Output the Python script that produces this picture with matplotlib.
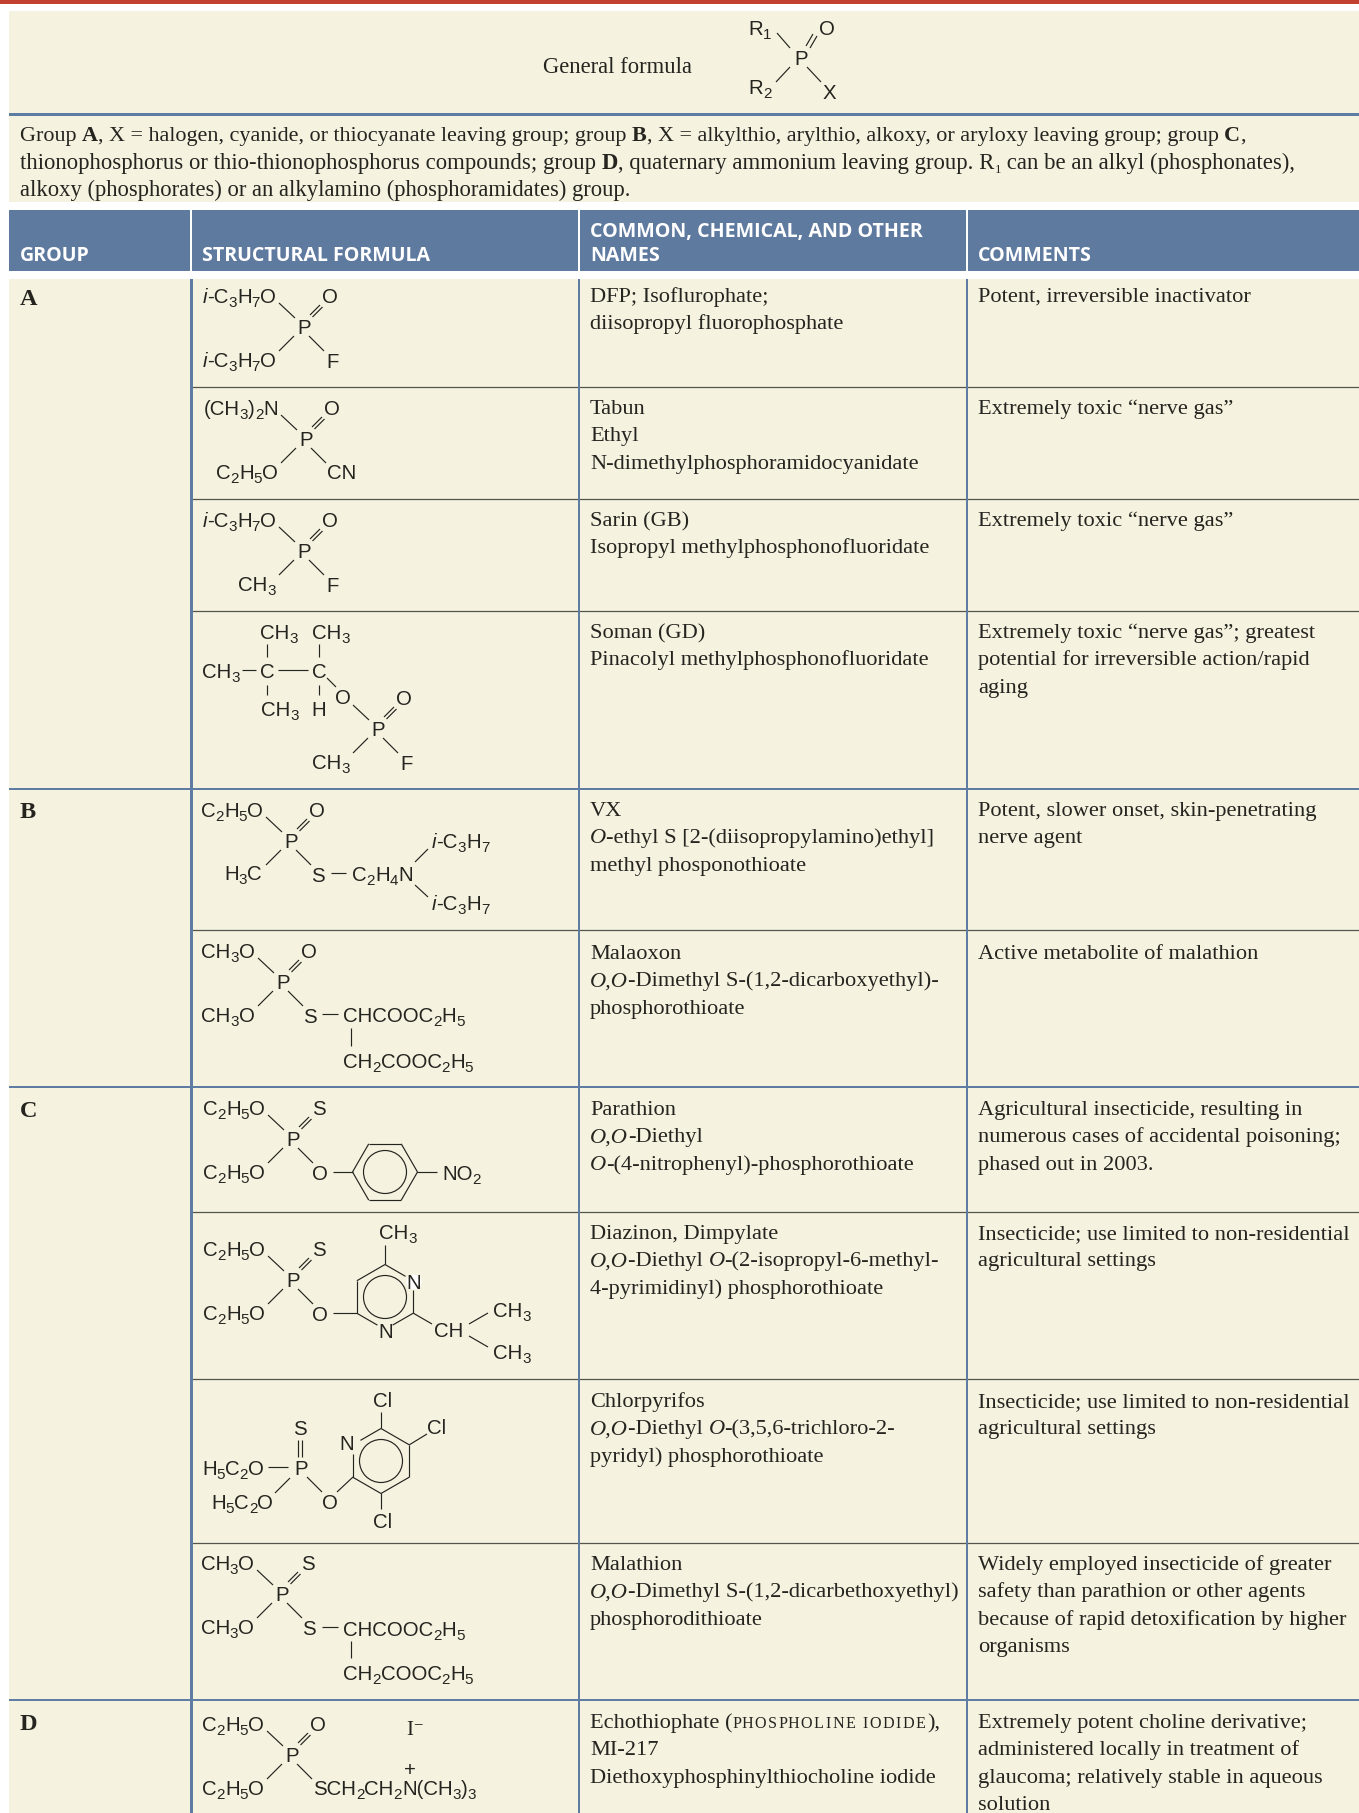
"""Organophosphate compounds table, drawn on a pixel-sized axes."""
import re
import math
import matplotlib
matplotlib.use("Agg")
import matplotlib.pyplot as plt
from matplotlib import font_manager as fm
from matplotlib.patches import Rectangle, Circle

W, H = 1359, 1813
CREAM = '#f5f3e0'
BLUE = '#5f7ca3'
HEAD = '#5f7a9f'
RED = '#c1402f'
INK = '#26241f'
RULE = '#55544c'

SERIF = 'Liberation Serif'
SANS = 'Liberation Sans'
HEADFONT = 'Open Sans'

BODY_PT = 16.1
CHEM_PT = 14.7
HEAD_PT = 14.1

INTRO = [
    "Group <b>A</b>, X = halogen, cyanide, or thiocyanate leaving group; group <b>B</b>, X = alkylthio, arylthio, alkoxy, or aryloxy leaving group; group <b>C</b>,",
    "thionophosphorus or thio-thionophosphorus compounds; group <b>D</b>, quaternary ammonium leaving group. R<sub>1</sub> can be an alkyl (phosphonates),",
    "alkoxy (phosphorates) or an alkylamino (phosphoramidates) group.",
]
INTRO_PT = [15.93, 16.4, 16.3]
HEADERS = ["GROUP", "STRUCTURAL FORMULA", "COMMON, CHEMICAL, AND OTHER\nNAMES", "COMMENTS"]
GROUPS = {"A": 0, "B": 4, "C": 6, "D": 10}

ROW_TOPS = [279, 387, 499, 611, 789, 930, 1087, 1212, 1379, 1543, 1700]
FIRST_BASE = [302, 414, 526, 638, 816, 959, 1115, 1239, 1407, 1570, 1728]
NAMES = [
    ["DFP; Isoflurophate;", "diisopropyl fluorophosphate"],
    ["Tabun", "Ethyl", "N-dimethylphosphoramidocyanidate"],
    ["Sarin (GB)", "Isopropyl methylphosphonofluoridate"],
    ["Soman (GD)", "Pinacolyl methylphosphonofluoridate"],
    ["VX", "<i>O</i>-ethyl S [2-(diisopropylamino)ethyl]", "methyl phosponothioate"],
    ["Malaoxon", "<i>O,O</i>-Dimethyl S-(1,2-dicarboxyethyl)-", "phosphorothioate"],
    ["Parathion", "<i>O,O</i>-Diethyl", "<i>O</i>-(4-nitrophenyl)-phosphorothioate"],
    ["Diazinon, Dimpylate", "<i>O,O</i>-Diethyl <i>O</i>-(2-isopropyl-6-methyl-", "4-pyrimidinyl) phosphorothioate"],
    ["Chlorpyrifos", "<i>O,O</i>-Diethyl <i>O</i>-(3,5,6-trichloro-2-", "pyridyl) phosphorothioate"],
    ["Malathion", "<i>O,O</i>-Dimethyl S-(1,2-dicarbethoxyethyl)", "phosphorodithioate"],
    ["Echothiophate (<sc>PHOSPHOLINE IODIDE</sc>),", "MI-217", "Diethoxyphosphinylthiocholine iodide"],
]
COMMENTS = [
    ["Potent, irreversible inactivator"],
    ["Extremely toxic \u201cnerve gas\u201d"],
    ["Extremely toxic \u201cnerve gas\u201d"],
    ["Extremely toxic \u201cnerve gas\u201d; greatest", "potential for irreversible action/rapid", "aging"],
    ["Potent, slower onset, skin-penetrating", "nerve agent"],
    ["Active metabolite of malathion"],
    ["Agricultural insecticide, resulting in", "numerous cases of accidental poisoning;", "phased out in 2003."],
    ["Insecticide; use limited to non-residential", "agricultural settings"],
    ["Insecticide; use limited to non-residential", "agricultural settings"],
    ["Widely employed insecticide of greater", "safety than parathion or other agents", "because of rapid detoxification by higher", "organisms"],
    ["Extremely potent choline derivative;", "administered locally in treatment of", "glaucoma; relatively stable in aqueous", "solution"],
]

fig = plt.figure(figsize=(W / 100, H / 100), dpi=100, facecolor='white')
ax = fig.add_axes([0, 0, 1, 1])
ax.set_xlim(0, W)
ax.set_ylim(H, 0)
ax.axis('off')
renderer = fig.canvas.get_renderer()


def measure(s, prop):
    full = renderer.get_text_width_height_descent('.' + s + '.', prop, False)[0]
    dots = renderer.get_text_width_height_descent('..', prop, False)[0]
    return full - dots


def rich(x, y, markup, family=SERIF, size=BODY_PT, color=INK, ha='left', sub_drop=4, sub=0.56):
    """Lay out <b>/<i>/<sub>/<sc> runs one after the other from a baseline."""
    runs = []
    style = dict(weight='normal', slant='normal', size=size, drop=0, track=0)
    for part in re.split(r'(</?(?:b|i|sub|sc)>)', markup):
        if part == '<b>':
            style = dict(style, weight='bold')
        elif part == '<i>':
            style = dict(style, slant='italic')
        elif part == '<sub>':
            style = dict(style, size=size * sub, drop=sub_drop)
        elif part == '<sc>':
            style = dict(style, size=size * 0.72, track=1.6)
        elif part in ('</b>', '</i>', '</sub>', '</sc>'):
            style = dict(weight='normal', slant='normal', size=size, drop=0, track=0)
        elif part:
            prop = fm.FontProperties(family=family, weight=style['weight'],
                                     style=style['slant'], size=style['size'])
            # small caps are letterspaced, so they go down one letter at a time
            pieces = part if style['track'] else [part]
            for piece in pieces:
                runs.append((piece, prop, style['drop'], measure(piece, prop) + style['track']))
    total = sum(r[3] for r in runs)
    if ha == 'right':
        x -= total
    elif ha == 'center':
        x -= total / 2
    for part, prop, drop, w in runs:
        if part.strip():
            ax.text(x, y + drop, part, fontproperties=prop, color=color,
                    ha='left', va='baseline')
        x += w


def chem(x, y, s, ha='left'):
    # y is the middle of the capitals, _2 makes a subscript, ~ wraps italics
    s = re.sub(r'_(\d)', r'<sub>\1</sub>', s)
    s = re.sub(r'~(.*?)~', r'<i>\1</i>', s)
    rich(x, y + 7, s, family=SANS, size=CHEM_PT, ha=ha, sub=0.74)


def bond(x0, y0, x1, y1):
    ax.plot([x0, x1], [y0, y1], color=INK, lw=0.85, solid_capstyle='butt', zorder=3)


def phos(px, py, ul=None, ur=None, ll=None, lr=None, lr_left=False):
    """P centre with its usual four arms; labels sit at the arm ends."""
    chem(px, py, 'P', ha='center')
    bond(px - 24, py - 24, px - 8, py - 9)
    bond(px - 9, py + 9, px - 24, py + 24)
    bond(px + 6, py + 9, px + 21, py + 24)
    bond(px + 7, py - 12, px + 17, py - 22)
    bond(px + 9.5, py - 10, px + 19.5, py - 20)
    if ul:
        chem(px - 27, py - 31, ul, ha='right')
    if ur:
        chem(px + 27, py - 31, ur, ha='center')
    if ll:
        chem(px - 27, py + 33, ll, ha='right')
    if lr:
        if lr_left:
            chem(px + 22, py + 33, lr)
        else:
            chem(px + 28, py + 34, lr, ha='center')


def ring(cx, cy, start, gaps=(), r=32.5):
    verts = [(cx + r * math.cos(math.radians(start + 60 * i)),
              cy + r * math.sin(math.radians(start + 60 * i))) for i in range(6)]
    for i in range(6):
        (x0, y0), (x1, y1) = verts[i], verts[(i + 1) % 6]
        t0 = 0.27 if i in gaps else 0
        t1 = 0.73 if (i + 1) % 6 in gaps else 1
        bond(x0 + (x1 - x0) * t0, y0 + (y1 - y0) * t0,
             x0 + (x1 - x0) * t1, y0 + (y1 - y0) * t1)
    ax.add_patch(Circle((cx, cy), 21.5, fill=False, ec=INK, lw=0.85, zorder=3))


# backgrounds and rules
ax.add_patch(Rectangle((0, 0), W, 3.5, fc=RED, ec='none'))
ax.add_patch(Rectangle((9, 11), W - 9, 102, fc=CREAM, ec='none'))
ax.add_patch(Rectangle((9, 113), W - 9, 2.6, fc=BLUE, ec='none'))
ax.add_patch(Rectangle((9, 115.6), W - 9, 86.4, fc=CREAM, ec='none'))
ax.add_patch(Rectangle((9, 210), W - 9, 61, fc=HEAD, ec='none'))
ax.add_patch(Rectangle((9, 279), W - 9, H - 279, fc=CREAM, ec='none'))
for cx in (190.5, 579, 967):
    ax.add_patch(Rectangle((cx - 1, 210), 2, 61, fc='white', ec='none', zorder=2))
for top in ROW_TOPS[1:]:
    if top not in (ROW_TOPS[v] for v in GROUPS.values()):
        ax.plot([191, W], [top, top], color=RULE, lw=0.9, zorder=1)
for idx in GROUPS.values():
    if idx:
        ax.add_patch(Rectangle((9, ROW_TOPS[idx] - 1.3), W - 9, 2.6, fc=BLUE, ec='none', zorder=2))
ax.add_patch(Rectangle((189.5, 279), 3, H - 279, fc=BLUE, ec='none', zorder=2))
for cx in (579, 967):
    ax.add_patch(Rectangle((cx - 1, 279), 2, H - 279, fc=BLUE, ec='none', zorder=2))

# text blocks
rich(543, 73, "General formula", size=16.3)
for i, (line, pt) in enumerate(zip(INTRO, INTRO_PT)):
    rich(20, 141 + i * 27.7, line, size=pt)

header_x = [20, 202, 590, 978]
for hx, label in zip(header_x, HEADERS):
    lines = label.split('\n')
    for j, line in enumerate(reversed(lines)):
        ax.text(hx, 261 - j * 24, line, family=HEADFONT, weight='bold', size=HEAD_PT,
                color='white', ha='left', va='baseline')

for g, idx in GROUPS.items():
    rich(20, FIRST_BASE[idx] + (3 if g == 'A' else 2), f"<b>{g}</b>", size=17.5)
for base, names, notes in zip(FIRST_BASE, NAMES, COMMENTS):
    for i, line in enumerate(names):
        rich(590, base + i * 27.4, line)
    for i, line in enumerate(notes):
        rich(978, base + i * 27.4, line)

# general formula
chem(800, 58, 'P', ha='center')
chem(760, 28, 'R_1', ha='center')
chem(827, 28, 'O', ha='center')
chem(760, 87, 'R_2', ha='center')
chem(829, 92, 'X', ha='center')
bond(777, 33, 790, 48)
bond(790, 67, 776, 82)
bond(807, 67, 821, 82)
bond(806, 46, 813, 34)
bond(810, 48, 817, 36)

# group A
phos(303, 327, '~i~-C_3H_7O', 'O', '~i~-C_3H_7O', 'F')
phos(305, 439, '(CH_3)_2N', 'O', 'C_2H_5O', 'CN', lr_left=True)
phos(303, 551, '~i~-C_3H_7O', 'O', 'CH_3', 'F')

chem(260, 632, 'CH_3')
chem(312, 632, 'CH_3')
chem(202, 671, 'CH_3')
chem(267, 671, 'C', ha='center')
chem(319, 671, 'C', ha='center')
chem(261, 709, 'CH_3')
chem(319, 709, 'H', ha='center')
chem(343, 697, 'O', ha='center')
bond(267, 644, 267, 657)
bond(319, 644, 319, 657)
bond(242, 670, 256, 670)
bond(278, 670, 308, 670)
bond(267, 685, 267, 695)
bond(319, 685, 319, 695)
bond(327, 678, 336, 687)
phos(377, 729, None, 'O', 'CH_3', 'F')

# group B
phos(290, 841, 'C_2H_5O', 'O', None, 'S')
chem(224, 873, 'H_3C')
bond(331, 873, 346, 873)
chem(352, 874, 'C_2H_4N')
chem(432, 841, '~i~-C_3H_7')
chem(432, 903, '~i~-C_3H_7')
bond(415, 862, 428, 849)
bond(415, 885, 428, 897)

phos(282, 982, 'CH_3O', 'O', 'CH_3O', 'S')
bond(322, 1014, 338, 1014)
chem(343, 1015, 'CHCOOC_2H_5')
bond(351, 1028, 351, 1046)
chem(343, 1061, 'CH_2COOC_2H_5')

# group C
phos(292, 1139, 'C_2H_5O', 'S', 'C_2H_5O', 'O')
bond(333, 1172, 353, 1172)
ring(385, 1172, 0)
bond(417, 1172, 437, 1172)
chem(442, 1173, 'NO_2')

phos(292, 1280, 'C_2H_5O', 'S', 'C_2H_5O', 'O')
bond(333, 1313, 357, 1313)
ring(385, 1297, -90, gaps=(1, 3))
ax.add_patch(Circle((414, 1282), 7.5, fc='white', ec='none', zorder=3.5))
ax.text(414, 1289, 'N', family=SANS, size=CHEM_PT, color=INK, ha='center', va='baseline', zorder=4)
chem(386, 1331, 'N', ha='center')
chem(379, 1232, 'CH_3')
bond(385, 1245, 385, 1264)
bond(413, 1313, 432, 1324)
chem(434, 1330, 'CH')
bond(469, 1324, 488, 1313)
bond(469, 1336, 488, 1347)
chem(493, 1310, 'CH_3')
chem(493, 1352, 'CH_3')

chem(300, 1468, 'P', ha='center')
chem(300, 1428, 'S', ha='center')
bond(297.5, 1440, 297.5, 1457)
bond(301.5, 1440, 301.5, 1457)
chem(202, 1468, 'H_5C_2O')
bond(268, 1467, 288, 1467)
chem(211, 1502, 'H_5C_2O')
bond(290, 1478, 275, 1493)
bond(307, 1477, 322, 1492)
chem(330, 1502, 'O', ha='center')
bond(337, 1492, 353, 1477)
ring(381, 1461, -90, gaps=(5,))
chem(347, 1443, 'N', ha='center')
chem(383, 1400, 'Cl', ha='center')
bond(381, 1412, 381, 1428)
chem(437, 1427, 'Cl', ha='center')
bond(409, 1445, 427, 1434)
chem(383, 1521, 'Cl', ha='center')
bond(381, 1493, 381, 1509)

phos(281, 1594, 'CH_3O', 'S', 'CH_3O', 'S')
bond(322, 1627, 338, 1627)
chem(343, 1629, 'CHCOOC_2H_5')
bond(351, 1641, 351, 1658)
chem(343, 1673, 'CH_2COOC_2H_5')

# group D
phos(291, 1755, 'C_2H_5O', 'O', 'C_2H_5O', 'SCH_2CH_2N(CH_3)_3', lr_left=True)
rich(406, 1735, 'I', size=BODY_PT - 1)
ax.text(413, 1729, '\u2212', family=SERIF, size=12, color=INK, ha='left', va='baseline')
ax.text(410, 1776, '+', family=SANS, size=CHEM_PT, color=INK, ha='center', va='baseline')

fig.savefig('out.png', dpi=100, facecolor='white')
